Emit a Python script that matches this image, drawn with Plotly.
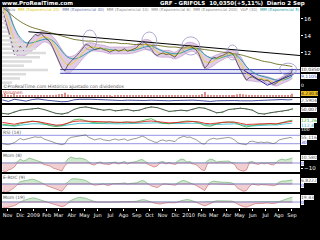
import plotly.graph_objects as go
import pandas as pd

# ---------------- data ----------------
weeks = list(pd.date_range("2008-10-20", periods=98, freq="7D").strftime("%Y-%m-%d")) + ["2010-09-02"]

close = [17.0, 15.8, 14.6, 13.5, 11.8, 12.2, 12.8, 12.3, 12.6, 13.4,
         13.8, 14.2, 14.0, 14.3, 13.9, 13.6, 13.3, 12.6, 11.8, 11.0,
         10.2, 9.9, 10.6, 11.0, 11.3, 11.7, 12.1, 12.6, 13.0, 12.9,
         12.7, 12.4, 12.5, 12.6, 12.4, 12.3, 12.1, 12.3, 12.4, 12.2,
         12.3, 12.5, 12.2, 12.3, 12.5, 12.6, 13.0, 13.3, 13.2, 12.8,
         12.5, 11.9, 11.7, 11.9, 12.0, 11.8, 11.9, 11.7, 11.5, 12.0,
         12.5, 12.9, 12.8, 12.9, 12.6, 12.4, 11.9, 11.0, 10.2, 10.6,
         11.2, 11.5, 11.4, 11.6, 11.7, 11.9, 12.1, 12.0, 11.6, 10.7,
         10.0, 9.4, 8.8, 9.1, 9.2, 9.0, 8.8, 8.9, 8.7, 8.8,
         8.5, 8.3, 8.4, 8.8, 9.0, 9.2, 9.4, 9.6, 10.035]

ma_dates = weeks[::2]
ema20 = [17.5, 15.8, 13.5, 12.6, 12.5, 13.0, 13.6, 13.9, 13.6, 12.6,
         11.3, 10.6, 10.9, 11.6, 12.4, 12.7, 12.6, 12.5, 12.3, 12.3,
         12.3, 12.3, 12.4, 12.7, 13.0, 12.8, 12.1, 11.9, 11.9, 11.7,
         12.1, 12.6, 12.7, 12.2, 11.0, 10.9, 11.3, 11.6, 11.9, 11.8,
         10.8, 9.6, 9.2, 9.0, 8.9, 8.7, 8.5, 8.8, 9.2, 9.6]
ema40 = [18.0, 16.8, 15.0, 13.8, 13.2, 13.2, 13.4, 13.6, 13.6, 13.1,
         12.2, 11.5, 11.3, 11.5, 11.9, 12.3, 12.5, 12.5, 12.4, 12.3,
         12.3, 12.3, 12.3, 12.5, 12.7, 12.8, 12.5, 12.2, 12.0, 11.9,
         12.0, 12.3, 12.5, 12.4, 11.8, 11.4, 11.3, 11.5, 11.7, 11.8,
         11.3, 10.4, 9.8, 9.4, 9.2, 9.0, 8.8, 8.8, 9.0, 9.3]
ema200 = [17.4, 16.8, 16.2, 15.7, 15.3, 15.0, 14.8, 14.6, 14.4, 14.2,
          14.0, 13.8, 13.6, 13.5, 13.4, 13.4, 13.3, 13.3, 13.2, 13.2,
          13.1, 13.1, 13.0, 13.0, 13.0, 12.9, 12.9, 12.8, 12.7, 12.7,
          12.6, 12.6, 12.6, 12.5, 12.4, 12.3, 12.2, 12.1, 12.0, 11.9,
          11.8, 11.6, 11.4, 11.2, 11.0, 10.9, 10.7, 10.6, 10.5, 10.4]
band_half = [1.2, 1.4, 1.5, 1.0, 0.7, 0.7, 0.8, 0.6, 0.6, 0.9,
             1.1, 1.0, 0.8, 0.7, 0.7, 0.5, 0.4, 0.4, 0.4, 0.4,
             0.4, 0.4, 0.4, 0.5, 0.6, 0.6, 0.5, 0.4, 0.4, 0.4,
             0.5, 0.6, 0.5, 0.6, 0.8, 0.6, 0.5, 0.4, 0.4, 0.5,
             0.8, 0.8, 0.5, 0.4, 0.4, 0.4, 0.4, 0.4, 0.5, 0.6]

trend_dates = ["2008-12-20", "2010-09-20"]
trend_vals = [14.5, 11.7]
supp_dates = ["2009-03-05", "2010-09-20"]
supp_hi = [10.05, 10.05]
supp_lo = [9.6, 9.6]
wedge_dates = ["2010-05-10", "2010-07-05", "2010-09-05"]
wedge_vals = [10.0, 8.2, 9.5]

ell_x0 = ["2009-04-27", "2009-09-13", "2009-12-16", "2010-04-01", "2010-08-03"]
ell_x1 = ["2009-05-30", "2009-10-18", "2010-01-27", "2010-04-27", "2010-09-12"]
ell_y0 = [12.35, 12.35, 11.76, 11.18, 9.4]
ell_y1 = [14.7, 14.47, 13.9, 12.94, 10.8]

vbp_price = [8.5, 9.0, 9.5, 10.0, 10.5, 11.0, 11.5, 12.0, 12.5, 13.0, 13.5, 14.0, 14.5, 15.0, 15.5, 16.0, 16.5, 17.0]
vbp_len = [10, 18, 24, 46, 22, 30, 38, 44, 34, 24, 16, 10, 6, 5, 4, 3, 2, 2]

volume = [3.5, 4.0, 3.0, 2.5, 4.5, 2.0, 1.8, 1.5, 1.6, 2.0,
          1.8, 1.5, 1.4, 1.6, 1.8, 2.0, 2.2, 2.5, 3.0, 3.5,
          4.0, 5.5, 3.0, 2.5, 2.0, 1.8, 1.6, 2.0, 2.2, 1.8,
          1.5, 1.4, 1.3, 1.5, 1.6, 1.4, 1.3, 1.2, 1.5, 1.4,
          1.3, 1.6, 1.5, 1.8, 2.5, 2.0, 1.8, 2.0, 1.6, 1.5,
          1.7, 2.0, 1.8, 1.6, 1.5, 1.4, 1.6, 1.8, 2.0, 1.7,
          2.0, 1.8, 1.6, 1.5, 1.8, 2.0, 2.5, 4.0, 6.5, 3.0,
          2.5, 2.0, 1.8, 2.2, 2.0, 1.8, 1.6, 2.0, 2.5, 3.5,
          4.0, 3.5, 3.0, 2.5, 2.0, 1.8, 1.7, 1.6, 1.8, 1.5,
          1.6, 2.0, 1.8, 1.6, 1.5, 1.7, 2.0, 2.5, 4.2]

p3 = [0.2, -0.3, 0.4, 0.1, -0.2, 0.3, 0.5, 0.2, 0.0, -0.2,
      -0.4, -0.3, 0.2, 0.4, 0.5, 0.4, 0.3, 0.2, 0.1, 0.0,
      0.0, 0.1, 0.0, -0.1, 0.0, 0.1, 0.0, -0.1, -0.1, 0.0,
      0.1, 0.2, 0.1, 0.0, -0.2, -0.3, -0.1, 0.0, 0.1, 0.0,
      -0.1, -0.2, -0.1, 0.0, 0.1, 0.2, 0.3, 0.3, 0.2, 0.3]

p4 = [30, 25, 40, 55, 60, 65, 70, 60, 45, 30, 25, 35, 60, 75, 80, 70, 60, 55, 60, 50,
      55, 60, 50, 55, 70, 80, 75, 60, 45, 50, 55, 50, 60, 75, 70, 55, 35, 40, 60, 65,
      70, 65, 55, 30, 25, 35, 40, 45, 55, 65]

p5_red = [112, 108, 104, 110, 114, 116, 115, 110, 104, 100, 102, 110, 116, 118, 117, 114, 113, 112, 112, 111,
          112, 113, 112, 113, 116, 118, 115, 111, 110, 111, 113, 115, 116, 114, 108, 106, 110, 112, 113, 113,
          108, 103, 104, 106, 106, 107, 106, 110, 114, 117]
p5_green = [104, 100, 98, 106, 112, 118, 114, 106, 98, 94, 98, 108, 122, 126, 118, 112, 110, 110, 114, 110,
            112, 114, 110, 116, 124, 128, 116, 108, 106, 110, 114, 118, 116, 110, 98, 96, 106, 112, 114, 112,
            100, 92, 98, 104, 104, 106, 104, 112, 118, 121.26]
p5_cyan = [100, 98, 96, 100, 104, 106, 106, 103, 100, 97, 97, 101, 106, 108, 108, 107, 106, 106, 106, 106,
           106, 107, 107, 107, 109, 111, 110, 107, 106, 106, 107, 108, 109, 108, 104, 101, 103, 105, 106, 106,
           103, 98, 97, 99, 100, 101, 101, 103, 106, 109]

rsi = [30, 28, 25, 30, 35,
       45, 55, 48, 52, 58, 62, 63, 60, 62,
       52, 48, 45, 38, 32, 28, 25, 30,
       52, 60, 62, 65, 68, 70, 72,
       60, 55, 48, 52, 54, 48, 46, 44, 50, 52, 47, 50, 53, 45, 50, 53, 55,
       62, 66, 60,
       50, 45, 38, 36, 45, 48, 42, 46, 42, 40,
       55, 62, 66, 60, 62, 55, 50,
       40, 30, 28,
       45, 52, 56, 52, 55, 56, 58, 60, 56, 48,
       35, 30, 27, 25,
       40, 42, 38, 35, 38, 35, 38, 33, 30, 36,
       48, 52, 55, 58, 60, 55.1]

mom = [-15, -18, -14, -12, -8,
       2, 8, 4, 6, 10, 8, 6, 3, 2,
       -3, -5, -6, -10, -12, -14, -16, -5,
       8, 12, 10, 9, 10, 8, 7,
       2, -3, -4, 1, 2, -2, -3, -3, 1, 2, -2, 1, 3, -2, 1, 2, 3,
       6, 7, 3,
       -3, -5, -8, -6, 2, 3, -2, 1, -2, -3,
       4, 8, 7, 2, 3, -2, -3,
       -8, -14, -15,
       5, 8, 6, 2, 3, 3, 4, 4, 1, -3,
       -12, -15, -16, -14,
       2, 3, -2, -3, 1, -2, 1, -3, -4, 1,
       6, 8, 6, 7, 9, 10.58]

roc = [-12, -14, -13, -10, -6,
       -1, 4, 5, 6, 8, 8, 7, 5, 3,
       0, -3, -5, -7, -9, -11, -12, -6,
       3, 8, 9, 9, 8, 7, 6,
       3, 0, -2, -1, 1, 0, -2, -2, 0, 1, 0, 1, 2, 0, 1, 1, 2,
       4, 6, 4,
       0, -3, -5, -6, -3, 0, 0, -1, -2, -2,
       2, 5, 6, 4, 3, 0, -2,
       -5, -9, -11,
       -2, 3, 5, 4, 3, 3, 3, 3, 2, -1,
       -7, -10, -12, -11,
       -4, 0, -1, -2, -1, -1, -1, -2, -3, -1,
       3, 5, 5, 6, 7, 6.82]

m19 = [-20, -22, -20, -18, -14,
       -8, 0, 6, 10, 14, 16, 15, 12, 8,
       4, 0, -4, -8, -12, -16, -18, -14,
       -4, 6, 12, 16, 18, 17, 15,
       10, 5, 2, 0, 1, 0, -1, -2, -1, 0, 0, 1, 2, 1, 1, 2, 3,
       6, 9, 8,
       4, 0, -4, -7, -8, -5, -3, -2, -3, -3,
       0, 5, 9, 10, 8, 4, 0,
       -6, -12, -15,
       -10, -4, 2, 5, 5, 5, 5, 5, 4, 0,
       -8, -14, -18, -20,
       -16, -10, -6, -6, -5, -4, -4, -5, -6, -4,
       2, 6, 10, 14, 17, 19.43]

month_ticks = ["2008-11-01", "2008-12-01", "2009-01-01", "2009-02-01", "2009-03-01", "2009-04-01",
               "2009-05-01", "2009-06-01", "2009-07-01", "2009-08-01", "2009-09-01", "2009-10-01",
               "2009-11-01", "2009-12-01", "2010-01-01", "2010-02-01", "2010-03-01", "2010-04-01",
               "2010-05-01", "2010-06-01", "2010-07-01", "2010-08-01", "2010-09-01"]
month_text = ["Nov", "Dic", "2009", "Feb", "Mar", "Abr", "May", "Jun", "Jul", "Ago", "Sep", "Oct",
              "Nov", "Dic", "2010", "Feb", "Mar", "Abr", "May", "Jun", "Jul", "Ago", "Sep"]

# ---------------- figure ----------------
W, H = 320, 240
panels = [(7, 89), (90, 97), (98, 103), (105, 116), (117, 128), (129, 150), (152, 172), (174, 192), (194, 208)]
def dom(a, b):
    return [1 - b / H, 1 - a / H]

XD = [2 / W, 300 / W]
XR = ["2008-10-19", "2010-09-20"]

fig = go.Figure()

def ax(n):
    return ("x" if n == 1 else "x%d" % n), ("y" if n == 1 else "y%d" % n)

# price panel
xa, ya = ax(1)
fig.add_trace(go.Bar(x=vbp_len, y=vbp_price, orientation="h", xaxis="x10", yaxis="y",
                     marker=dict(color="#dcdcdc", line=dict(width=0)), width=0.3))
upper = [m + b for m, b in zip(ema20, band_half)]
lower = [m - b for m, b in zip(ema20, band_half)]
fig.add_trace(go.Scatter(x=ma_dates, y=upper, mode="lines", line=dict(color="#b58fc4", width=0.6, shape="spline"),
                         xaxis=xa, yaxis=ya))
fig.add_trace(go.Scatter(x=ma_dates, y=lower, mode="lines", line=dict(color="#b58fc4", width=0.6, shape="spline"),
                         fill="tonexty", fillcolor="rgba(200,160,210,0.55)", xaxis=xa, yaxis=ya))
fig.add_trace(go.Scatter(x=supp_dates, y=supp_lo, mode="lines", line=dict(color="#3333aa", width=0.9), xaxis=xa, yaxis=ya))
fig.add_trace(go.Scatter(x=supp_dates, y=supp_hi, mode="lines", line=dict(color="#3333aa", width=0.9),
                         fill="tonexty", fillcolor="rgba(200,200,240,0.45)", xaxis=xa, yaxis=ya))
fig.add_trace(go.Scatter(x=ma_dates, y=ema200, mode="lines", line=dict(color="#6b6b20", width=0.9, shape="spline"), xaxis=xa, yaxis=ya))
fig.add_trace(go.Scatter(x=trend_dates, y=trend_vals, mode="lines", line=dict(color="#000000", width=1.0), xaxis=xa, yaxis=ya))
fig.add_trace(go.Scatter(x=ma_dates, y=ema40, mode="lines", line=dict(color="#1a9aa0", width=0.9, shape="spline"), xaxis=xa, yaxis=ya))
fig.add_trace(go.Scatter(x=ma_dates, y=ema20, mode="lines", line=dict(color="#e6d21e", width=0.9, shape="spline"), xaxis=xa, yaxis=ya))
fig.add_trace(go.Scatter(x=weeks, y=close, mode="lines", line=dict(color="#333333", width=0.7), xaxis=xa, yaxis=ya))
fig.add_trace(go.Scatter(x=wedge_dates, y=wedge_vals, mode="lines", line=dict(color="#2a2aa8", width=1.0), xaxis=xa, yaxis=ya))

for a0, a1, b0, b1 in zip(ell_x0, ell_x1, ell_y0, ell_y1):
    fig.add_shape(type="circle", xref="x", yref="y", x0=a0, x1=a1, y0=b0, y1=b1,
                  line=dict(color="#9a96c8", width=0.8))

# volume
xa, ya = ax(2)
fig.add_trace(go.Bar(x=weeks, y=volume, marker=dict(color="#e08a8a", line=dict(width=0)), xaxis=xa, yaxis=ya))
# p3
xa, ya = ax(3)
fig.add_trace(go.Scatter(x=ma_dates, y=p3, mode="lines", line=dict(color="#1c2a8a", width=0.8), xaxis=xa, yaxis=ya))
# p4
xa, ya = ax(4)
fig.add_trace(go.Scatter(x=ma_dates, y=p4, mode="lines+markers", line=dict(color="#222222", width=0.8),
                         marker=dict(size=1.5, color="#3a9a3a"), xaxis=xa, yaxis=ya))
# p5
xa, ya = ax(5)
fig.add_trace(go.Scatter(x=ma_dates, y=p5_cyan, mode="lines", line=dict(color="#20b8c8", width=0.8), xaxis=xa, yaxis=ya))
fig.add_trace(go.Scatter(x=ma_dates, y=p5_green, mode="lines", line=dict(color="#33aa33", width=0.8), xaxis=xa, yaxis=ya))
fig.add_trace(go.Scatter(x=ma_dates, y=p5_red, mode="lines", line=dict(color="#dd2222", width=0.9), xaxis=xa, yaxis=ya))
# rsi
xa, ya = ax(6)
for lv in (70, 30):
    fig.add_trace(go.Scatter(x=XR, y=[lv, lv], mode="lines", line=dict(color="#7777dd", width=0.8), xaxis=xa, yaxis=ya))
fig.add_trace(go.Scatter(x=weeks, y=rsi, mode="lines", line=dict(color="#555555", width=0.6), xaxis=xa, yaxis=ya))

def osc(n, vals):
    xa, ya = ax(n)
    pos = [max(v, 0) for v in vals]
    neg = [min(v, 0) for v in vals]
    fig.add_trace(go.Scatter(x=weeks, y=pos, mode="lines", line=dict(color="#4c9a4c", width=0.5),
                             fill="tozeroy", fillcolor="#cfe8cf", xaxis=xa, yaxis=ya))
    fig.add_trace(go.Scatter(x=weeks, y=neg, mode="lines", line=dict(color="#c04040", width=0.5),
                             fill="tozeroy", fillcolor="#efcfd2", xaxis=xa, yaxis=ya))
    fig.add_trace(go.Scatter(x=XR, y=[0, 0], mode="lines", line=dict(color="#6666cc", width=0.7), xaxis=xa, yaxis=ya))

osc(7, mom)
osc(8, roc)
osc(9, m19)

yranges = [[7.76, 17.41], [0, 9], [-0.8, 0.8], [10, 95], [88, 135], [0, 100], [-18, 22], [-13.3, 16.7], [-23, 31]]
ytick = [[12, 14, 16], [], [], [], [], [], [-10], [], []]
lay = dict(width=W, height=H, margin=dict(l=0, r=0, t=0, b=0), paper_bgcolor="black", plot_bgcolor="white",
           showlegend=False, bargap=0.15)
for i, (a, b) in enumerate(panels):
    n = i + 1
    xk = "xaxis" if n == 1 else "xaxis%d" % n
    yk = "yaxis" if n == 1 else "yaxis%d" % n
    xd = dict(domain=XD, range=XR, type="date", showgrid=False, zeroline=False, anchor=("y" if n == 1 else "y%d" % n),
              showticklabels=False, ticks="", showline=False)
    if n > 1:
        xd["matches"] = "x"
    if n == 9:
        xd.update(showticklabels=True, tickvals=month_ticks, ticktext=month_text, ticks="outside", ticklen=2,
                  tickangle=0, tickcolor="white", tickfont=dict(color="white", size=5, family="DejaVu Sans"))
    lay[xk] = xd
    lay[yk] = dict(domain=dom(a, b), range=yranges[i], side="right", showgrid=False, zeroline=False,
                   anchor=("x" if n == 1 else "x%d" % n), tickvals=ytick[i], ticks="outside", ticklen=2,
                   tickcolor="white", tickfont=dict(color="white", size=5.5, family="DejaVu Sans"), fixedrange=True)
lay["xaxis10"] = dict(domain=XD, range=[0, 298], overlaying="x", visible=False, anchor="y")
fig.update_layout(**lay)

def note(txt, x, y, color="white", size=5, xanchor="left", bg=None, border=None, bold=False):
    fig.add_annotation(text=("<b>%s</b>" % txt) if bold else txt, x=x / W, y=1 - y / H, xref="paper", yref="paper",
                       xanchor=xanchor, yanchor="middle", showarrow=False,
                       font=dict(color=color, size=size, family="DejaVu Sans"),
                       bgcolor=bg, bordercolor=border, borderwidth=(0.6 if border else 0), borderpad=0)

note("www.ProRealTime.com", 2, 3.5, size=5.5, bold=True)
note("GRF - GRIFOLS  10,0350(+5,11%)  Diario 2 Sep", 160, 3.5, size=5.5, bold=True)
note('<span style="color:#777">Precio</span>  <span style="color:#d8c810">MM (Exponencial 20)</span>  '
     '<span style="color:#6670a0">MM (Exponencial 40)</span>  <span style="color:#888">MM (Exponencial 10)</span>  '
     '<span style="color:#888">MM (Exponencial 6)</span>  <span style="color:#888">MM (Exponencial 200)</span>  '
     '<span style="color:#888">VbP (30)</span>  <span style="color:#1a9aa0">MM (Exponencial 5)</span>',
     3, 10, size=4)
note("©ProRealTime.com Histórico ajustado con dividendos", 3, 86.5, color="#555", size=4.5)
note("Volumen", 3, 92.5, color="#c03030", size=4.5)
note("RSI (14)", 3, 132, color="#555", size=4.5)
note("Mom (8)", 3, 155, color="#555", size=4.5)
note("E-ROC (9)", 3, 177, color="#555", size=4.5)
note("Mom (19)", 3, 197, color="#555", size=4.5)

BS = 4.5
note("10,0350", 300.5, 69, color="#333", size=BS, bg="white")
note("9,1105", 300.5, 76.5, color="#3355bb", size=BS, bg="white")
note("0", 301, 85.5, size=BS)
note("4.230.8", 300.5, 94, color="#222", size=BS, bg="#f0c020")
note("2,5904", 300.5, 100.5, color="#555", size=BS, bg="white")
note("50,007", 300.5, 110, color="#333", size=BS, bg="white")
note("121,26", 300.5, 120, color="#22aa22", size=BS, bg="white")
note("112,4", 300.5, 125, color="#20a8c0", size=BS, bg="white")
note("100", 301, 129.5, size=BS)
note("55,116", 300.5, 137, color="#555", size=BS, bg="white")
note("30", 300.5, 142.5, color="#3333cc", size=BS, bg="white")
note("10,580", 300.5, 157, color="#555", size=BS, bg="white")
note("0", 300.5, 163, color="#3333cc", size=BS, bg="white")
note("6,8222", 300.5, 180, color="#555", size=BS, bg="white")
note("0", 300.5, 185, color="#3333cc", size=BS, bg="white")
note("19,43", 300.5, 197.5, color="#555", size=BS, bg="white")
note("0", 300.5, 202.5, color="#3333cc", size=BS, bg="white")

fig.write_html("out.html")
